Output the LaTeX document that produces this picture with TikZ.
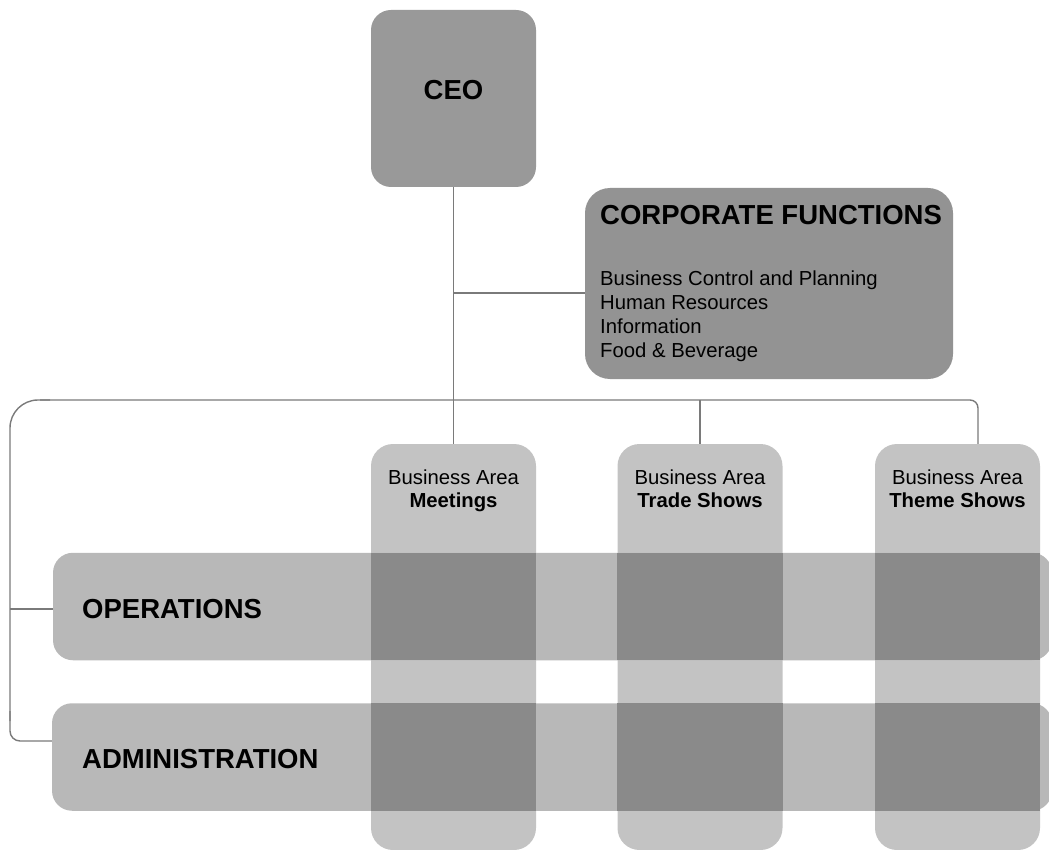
\documentclass[tikz,border=0pt]{standalone}
\usepackage{fontspec}
\setmainfont{Liberation Sans}
\usetikzlibrary{calc}
\definecolor{ceofill}{HTML}{999999}
\definecolor{corpfill}{HTML}{939393}
\definecolor{colfill}{HTML}{C3C3C3}
\definecolor{rowfill}{HTML}{B8B8B8}
\definecolor{ovlfill}{HTML}{8A8A8A}
\definecolor{linecol}{HTML}{7A7A7A}
\tikzset{
  box/.style={rectangle, inner sep=0pt, draw=none},
  colbox/.style={box, fill=colfill, minimum width=165pt, minimum height=406pt, rounded corners=22pt},
  rowbox/.style={box, fill=rowfill, minimum height=107.5pt, rounded corners=20pt},
  conn/.style={draw=linecol, line width=1.4pt},
  head/.style={font=\fontsize{27.5}{30}\selectfont\bfseries, inner sep=0pt},
  small/.style={font=\fontsize{20.3}{24}\selectfont, inner sep=0pt},
  smallb/.style={font=\fontsize{20.3}{24}\selectfont\bfseries, inner sep=0pt},
}
\begin{document}
\begin{tikzpicture}[x=1pt,y=-1pt]
\useasboundingbox (0,0) rectangle (1049,850);
% boxes
\node[box, fill=ceofill, minimum width=165pt, minimum height=177pt, rounded corners=20pt] (ceo) at (453.5,98.5) {};
\node[box, fill=corpfill, minimum width=368pt, minimum height=191pt, rounded corners=25pt] (corp) at (769,283.5) {};
\node[colbox] (meet) at (453.5,647) {};
\node[colbox] (trade) at (700,647) {};
\node[colbox] (theme) at (957.5,647) {};
\node[rowbox, minimum width=999pt] (ops) at (552.5,606.5) {};
\node[rowbox, minimum width=1000pt] (adm) at (552,757) {};
% overlaps
\foreach \c in {meet,trade,theme}{
  \foreach \r in {ops,adm}{
    \fill[ovlfill] (\c.west |- \r.north) rectangle (\c.east |- \r.south);
  }
}
% connectors
\coordinate (j1) at (453.5,293);
\coordinate (tr) at (978,400);
\coordinate (tl) at (10,400);
\coordinate (bl) at (10,741);
\coordinate (jo) at (10,609);
\coordinate (tm) at (700,400);
\draw[conn] (ceo.south) -- (meet.north);
\draw[conn] (j1) -- (j1 -| corp.west);
\draw[conn, rounded corners=8pt] (tr |- theme.north) -- (tr) -- ($(tl)+(30,0)$);
\draw[conn, rounded corners=28pt] ($(tl)+(40,0)$) -- (tl) -- ($(bl)+(0,-20)$);
\draw[conn, rounded corners=10pt] ($(bl)+(0,-30)$) -- (bl) -- (bl -| adm.west);
\draw[conn] (tm) -- (tm |- trade.north);
\draw[conn] (jo) -- (jo -| ops.west);
% texts
\node[head, anchor=base] (ceot) at (453.5,100) {CEO};
\node[head, anchor=base west] (corpt) at (600,225) {CORPORATE FUNCTIONS};
\node[small, anchor=base west, align=left] (corpb) at (600,357) {Business Control and Planning\\Human Resources\\Information\\Food \& Beverage};
\node[small, anchor=base] (meet1) at ($(meet.north)+(0,41)$) {Business Area};
\node[smallb, anchor=base] (meet2) at ($(meet.north)+(0,64)$) {Meetings};
\node[small, anchor=base] (trade1) at ($(trade.north)+(0,41)$) {Business Area};
\node[smallb, anchor=base] (trade2) at ($(trade.north)+(0,64)$) {Trade Shows};
\node[small, anchor=base] (theme1) at ($(theme.north)+(0,41)$) {Business Area};
\node[smallb, anchor=base] (theme2) at ($(theme.north)+(0,64)$) {Theme Shows};
\node[head, anchor=base west] (opst) at (82,618) {OPERATIONS};
\node[head, anchor=base west] (admt) at (82,768) {ADMINISTRATION};
\end{tikzpicture}
\end{document}
